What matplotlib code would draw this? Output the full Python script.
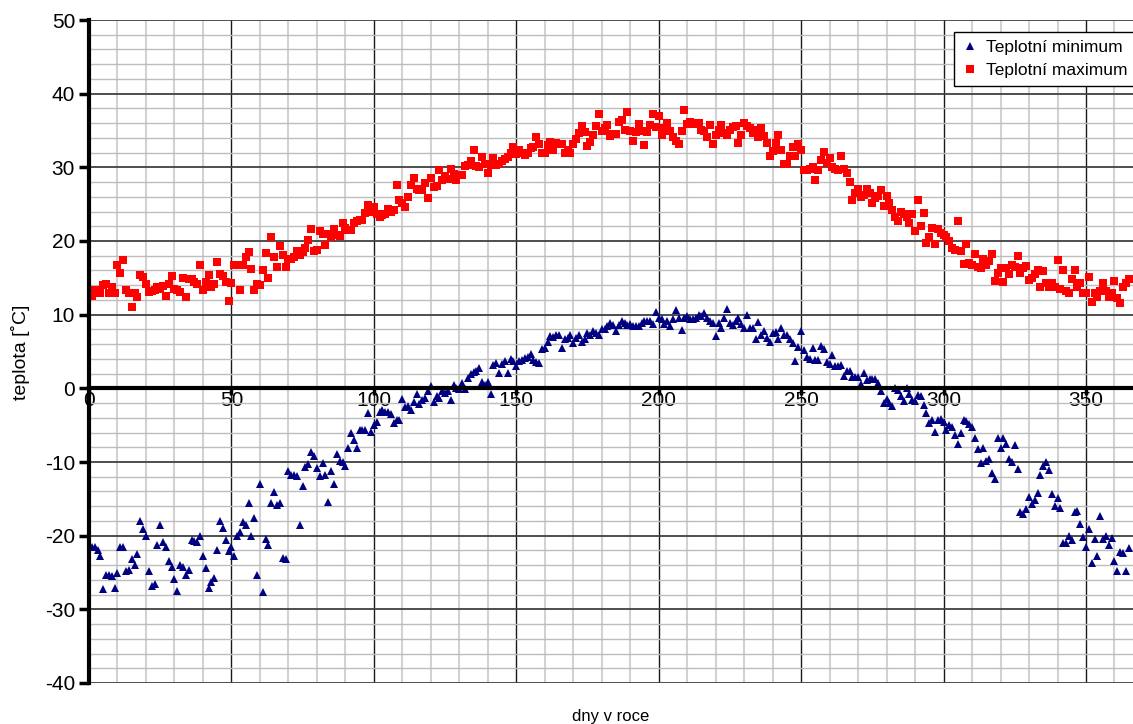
import numpy as np
import matplotlib
matplotlib.use('Agg')
import matplotlib.pyplot as plt
from matplotlib.ticker import MultipleLocator

plt.rcParams['font.family'] = ['Liberation Sans', 'DejaVu Sans']
plt.rcParams['axes.unicode_minus'] = False

days = np.arange(1, 366)

t_max = [
    12.5, 13.3, 12.9, 13.0, 14.0, 14.2, 12.9, 13.8, 12.9, 16.7,
    15.7, 17.4, 13.3, 13.0, 11.1, 12.9, 12.4, 15.4, 15.1, 14.2,
    13.1, 13.2, 13.4, 13.8, 13.5, 13.9, 12.5, 14.1, 15.3, 13.5,
    13.4, 13.1, 15.0, 12.4, 14.9, 14.8, 14.4, 14.2, 16.7, 13.4,
    14.4, 15.4, 13.8, 14.1, 17.2, 15.5, 15.3, 14.4, 11.9, 14.3,
    16.8, 16.8, 13.4, 16.8, 17.8, 18.5, 16.2, 13.4, 14.2, 14.0,
    16.0, 18.4, 15.0, 20.5, 17.8, 16.5, 19.3, 18.1, 16.5, 17.6,
    17.5, 17.8, 18.7, 18.1, 18.5, 19.0, 20.1, 21.6, 18.7, 18.8,
    21.3, 21.0, 19.5, 21.0, 20.5, 21.6, 20.8, 20.7, 22.5, 21.7,
    21.5, 21.5, 22.4, 22.7, 22.9, 22.9, 23.8, 24.9, 24.0, 24.6,
    23.6, 23.3, 23.5, 23.6, 24.4, 24.0, 24.2, 27.6, 25.5, 25.2,
    24.6, 26.0, 27.6, 28.5, 27.1, 26.9, 26.9, 27.9, 25.9, 28.6,
    27.3, 27.4, 29.6, 28.3, 28.8, 28.4, 29.8, 29.1, 28.3, 29.0,
    29.0, 30.2, 30.3, 30.8, 32.3, 30.2, 30.0, 31.4, 30.4, 29.2,
    30.3, 31.3, 30.3, 30.5, 30.8, 31.1, 31.4, 31.9, 32.8, 31.8,
    32.3, 31.9, 31.7, 31.9, 32.6, 32.7, 34.1, 33.2, 31.9, 31.9,
    33.0, 33.5, 32.4, 33.3, 33.2, 33.2, 31.9, 32.3, 31.9, 33.2,
    33.9, 34.6, 35.6, 34.8, 32.9, 33.5, 34.4, 35.6, 37.2, 34.9,
    35.3, 35.7, 34.2, 34.5, 34.5, 36.2, 36.4, 35.0, 37.5, 34.9,
    33.6, 34.8, 35.9, 34.9, 33.0, 34.8, 35.7, 37.3, 35.5, 37.0,
    34.4, 35.3, 36.0, 34.9, 34.1, 33.6, 33.2, 34.9, 37.8, 35.9,
    36.2, 35.9, 36.0, 36.0, 35.0, 34.9, 34.1, 35.7, 33.2, 34.4,
    35.1, 35.7, 34.7, 34.4, 35.1, 35.5, 35.6, 33.3, 34.4, 36.0,
    35.6, 35.3, 34.6, 35.1, 34.1, 35.3, 34.2, 33.3, 31.5, 32.2,
    33.3, 34.4, 32.4, 30.4, 30.4, 31.5, 32.7, 31.5, 33.2, 32.3,
    29.7, 29.7, 29.8, 30.1, 28.3, 29.6, 31.0, 32.1, 30.6, 31.3,
    30.0, 29.8, 29.7, 31.5, 29.8, 29.2, 28.0, 25.5, 26.5, 27.1,
    26.0, 26.2, 27.0, 26.5, 25.1, 25.9, 26.1, 26.9, 24.7, 26.1,
    25.1, 24.2, 23.3, 22.7, 24.0, 23.7, 23.2, 22.4, 23.7, 21.4,
    25.5, 22.0, 23.8, 19.7, 20.6, 21.7, 19.6, 21.6, 21.1, 20.8,
    20.6, 20.0, 19.1, 18.8, 22.7, 18.7, 16.9, 19.6, 17.0, 16.8,
    18.3, 16.5, 16.4, 17.6, 16.7, 17.3, 18.2, 14.6, 15.7, 16.4,
    14.4, 16.3, 15.5, 16.7, 16.5, 17.9, 15.7, 16.3, 16.6, 14.7,
    15.0, 15.5, 16.0, 13.8, 15.9, 14.3, 13.7, 14.3, 13.7, 17.4,
    13.5, 16.0, 13.2, 13.0, 14.9, 16.1, 13.8, 14.3, 13.0, 13.0,
    15.1, 11.7, 13.0, 12.4, 13.2, 14.3, 13.2, 12.4, 13.0, 14.6,
    12.2, 11.6, 13.7, 14.3, 14.8,
]

t_min = [
    -21.5, -21.6, -22.0, -22.7, -27.2, -25.4, -25.3, -25.5, -27.1, -25.1,
    -21.6, -21.5, -24.8, -24.6, -23.1, -24.0, -22.5, -18.0, -19.1, -20.1,
    -24.8, -26.9, -26.5, -21.2, -18.6, -20.9, -21.6, -23.4, -24.2, -25.9,
    -27.5, -24.0, -24.2, -25.3, -24.7, -20.6, -20.7, -20.9, -20.1, -22.8,
    -24.4, -27.1, -26.3, -25.7, -22.0, -18.0, -18.9, -20.6, -22.1, -21.6,
    -22.8, -20.0, -19.5, -18.1, -18.5, -15.5, -20.0, -17.6, -25.3, -13.0,
    -27.7, -20.4, -21.2, -15.5, -14.1, -15.8, -15.5, -23.0, -23.1, -11.2,
    -11.8, -11.7, -11.9, -18.6, -13.2, -10.7, -10.3, -8.7, -9.2, -10.8,
    -11.9, -10.1, -11.7, -15.4, -11.2, -13.0, -8.9, -9.8, -10.0, -10.5,
    -8.1, -6.1, -7.0, -8.1, -5.7, -5.7, -5.7, -3.4, -5.9, -5.0,
    -4.6, -3.2, -3.0, -3.2, -3.2, -3.5, -4.7, -4.3, -4.3, -1.4,
    -2.5, -2.4, -2.9, -1.9, -0.8, -2.1, -1.6, -1.3, -0.4, 0.3,
    -1.9, -1.0, -1.3, -0.4, -0.6, -0.4, -1.6, 0.5, 0.1, -0.1,
    0.7, -0.1, 1.4, 1.9, 2.2, 2.4, 2.8, 0.9, 0.4, 0.9,
    -0.8, 3.1, 3.4, 2.1, 3.3, 3.7, 2.1, 4.0, 3.7, 3.0,
    3.7, 3.9, 4.1, 4.3, 4.7, 3.9, 3.6, 3.4, 5.4, 5.5,
    6.3, 7.1, 7.0, 7.2, 7.2, 5.5, 6.7, 6.9, 7.2, 6.2,
    6.9, 7.2, 6.3, 6.7, 7.5, 7.2, 7.8, 7.5, 7.3, 8.0,
    8.0, 8.4, 8.9, 8.6, 7.8, 8.6, 9.2, 8.9, 8.6, 8.7,
    8.5, 8.5, 8.5, 8.9, 9.1, 9.2, 9.2, 8.8, 10.3, 9.5,
    9.4, 8.7, 9.1, 8.5, 9.4, 10.6, 9.5, 7.9, 9.5, 9.8,
    9.4, 9.4, 9.5, 10.0, 9.8, 10.2, 9.5, 9.2, 8.9, 7.1,
    8.9, 8.2, 9.6, 10.8, 8.9, 8.6, 9.2, 9.6, 8.7, 8.2,
    9.9, 8.2, 8.2, 6.7, 9.0, 7.3, 7.8, 6.9, 6.3, 7.5,
    7.6, 6.7, 8.2, 7.2, 7.2, 6.7, 6.1, 3.7, 5.6, 7.8,
    5.2, 4.3, 4.0, 5.5, 3.8, 3.9, 5.8, 5.3, 3.6, 3.3,
    4.5, 3.0, 3.0, 3.2, 1.7, 2.4, 2.3, 1.6, 1.5, 1.5,
    0.6, 2.1, 1.1, 1.2, 1.3, 1.2, 0.7, -0.3, -2.0, -1.4,
    -2.0, -2.4, 0.1, -0.2, -1.1, -1.7, 0.1, -0.8, -1.6, -1.7,
    -0.9, -1.0, -2.2, -3.4, -4.7, -4.3, -5.9, -4.3, -4.1, -4.6,
    -5.7, -5.0, -5.3, -6.4, -7.5, -6.0, -4.3, -4.4, -4.8, -5.2,
    -6.8, -8.3, -10.2, -8.1, -9.8, -9.6, -11.5, -12.3, -6.7, -8.1,
    -6.8, -7.6, -9.6, -10.0, -7.7, -11.0, -16.8, -17.0, -16.4, -14.8,
    -15.7, -15.1, -14.2, -11.7, -10.6, -10.0, -11.1, -14.4, -16.0, -14.9,
    -16.2, -21.0, -21.0, -20.0, -20.6, -16.8, -16.6, -18.4, -20.2, -21.6,
    -19.1, -23.7, -20.4, -22.8, -17.3, -20.4, -20.0, -21.2, -20.3, -23.5,
    -24.8, -22.2, -22.4, -24.8, -21.7,
]

W, H = 1133, 724
fig = plt.figure(figsize=(W / 100, H / 100), dpi=100)
ax = fig.add_axes([89 / W, 41 / H, (W - 89) / W, 663 / H])

ax.set_xlim(0, 366.5)
ax.set_ylim(-40, 50)

ax.xaxis.set_major_locator(MultipleLocator(50))
ax.xaxis.set_minor_locator(MultipleLocator(10))
ax.yaxis.set_major_locator(MultipleLocator(10))
ax.yaxis.set_minor_locator(MultipleLocator(2))

ax.grid(which='minor', axis='x', color='#d2d2d2', lw=1.5)
ax.grid(which='minor', axis='y', color='#bdbdbd', lw=1.0)
ax.grid(which='major', axis='x', color='#1a1a1a', lw=1.0)
ax.grid(which='major', axis='y', color='#404040', lw=1.3)
ax.set_axisbelow(True)

for s in ('top', 'right'):
    ax.spines[s].set_visible(False)
ax.spines['left'].set_linewidth(3)
ax.spines['left'].set_position(('data', 0))
ax.spines['bottom'].set_position(('data', 0))
ax.spines['bottom'].set_linewidth(3)

ax.tick_params(axis='y', which='major', direction='out', length=7, width=2.5,
               labelsize=15, pad=3)
ax.tick_params(axis='x', which='major', direction='out', length=5, width=2.5,
               labelsize=15, pad=-3)
ax.tick_params(which='minor', length=0)

ax.plot(days, t_min, linestyle='none', marker='^', color='#000080',
        markersize=6, markeredgewidth=0, label='Teplotní minimum', clip_on=True)
ax.plot(days, t_max, linestyle='none', marker='s', color='#ff0000',
        markersize=5.2, markeredgewidth=0, label='Teplotní maximum', clip_on=True)

leg = ax.legend(loc='upper left', bbox_to_anchor=(954 / W, 1 - 32 / H),
                bbox_transform=fig.transFigure, fontsize=12.5, frameon=True,
                fancybox=False, numpoints=1, handlelength=0.9,
                handletextpad=0.5, borderpad=0.45, labelspacing=0.45,
                borderaxespad=0)
leg.get_frame().set_edgecolor('black')
leg.get_frame().set_linewidth(1.0)
leg.get_frame().set_alpha(1)

fig.text(611 / W, 1 - 716 / H, 'dny v roce', ha='center', va='center', fontsize=12)
fig.text(21 / W, 1 - 352 / H, 'teplota [˚C]', ha='center', va='center',
         rotation=90, fontsize=14)

fig.savefig('out.png', dpi=100)
